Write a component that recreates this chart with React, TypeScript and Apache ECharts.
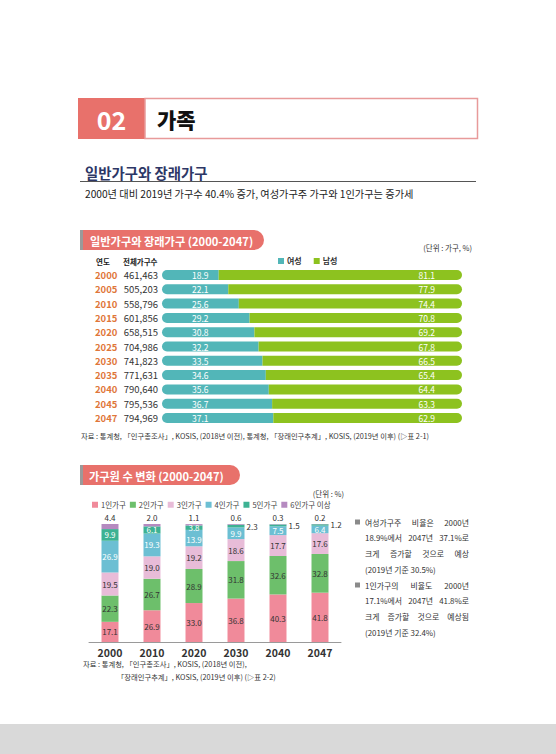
import React, { useEffect, useRef } from "react";
import * as echarts from "echarts";

const years = ["2000", "2005", "2010", "2015", "2020", "2025", "2030", "2035", "2040", "2045", "2047"];
const totals = ["461,463", "505,203", "558,796", "601,856", "658,515", "704,986", "741,823", "771,631", "790,640", "795,536", "794,969"];
const female = [18.9, 22.1, 25.6, 29.2, 30.8, 32.2, 33.5, 34.6, 35.6, 36.7, 37.1];
const male = [81.1, 77.9, 74.4, 70.8, 69.2, 67.8, 66.5, 65.4, 64.4, 63.3, 62.9];

const sizeYears = ["2000", "2010", "2020", "2030", "2040", "2047"];
const sizeNames = ["1인가구", "2인가구", "3인가구", "4인가구", "5인가구", "6인가구 이상"];
const p1 = [17.1, 26.9, 33.0, 36.8, 40.3, 41.8];
const p2 = [22.3, 26.7, 28.9, 31.8, 32.6, 32.8];
const p3 = [19.5, 19.0, 19.2, 18.6, 17.7, 17.6];
const p4 = [26.9, 19.3, 13.9, 9.9, 7.5, 6.4];
const p5 = [9.9, 6.1, 3.8, 2.3, 1.5, 1.2];
const p6 = [4.4, 2.0, 1.1, 0.6, 0.3, 0.2];

const para1 = ["여성가구주 비율은 2000년", "18.9%에서 2047년 37.1%로", "크게 증가할 것으로 예상", "(2019년 기준 30.5%)"];
const para2 = ["1인가구의 비율도 2000년", "17.1%에서 2047년 41.8%로", "크게 증가할 것으로 예상됨", "(2019년 기준 32.4%)"];

const FF = "'Noto Sans CJK KR', 'Noto Sans', sans-serif";
const RED = "#e8716b";

function txt(x: number, y: number, text: string, o: any = {}) {
  const style: any = {
    text,
    fill: o.fill || "#333",
    fontSize: o.fontSize || 8,
    fontWeight: o.fontWeight || "normal",
    fontFamily: FF,
    align: o.align || "left",
    textAlign: o.align || "left",
    verticalAlign: "middle",
    textVerticalAlign: "middle",
  };
  return { type: "text", x, y, style, z: 10 };
}

export default function App() {
  const ref = useRef<HTMLDivElement>(null);
  useEffect(() => {
    if (!ref.current) return;
    const chart = echarts.init(ref.current, null, { renderer: "svg" });

    const canvas = document.createElement("canvas");
    const ctx = canvas.getContext("2d")!;
    const pFont = 7.9;
    const measure = (s: string) => {
      ctx.font = `${pFont}px ${FF}`;
      return ctx.measureText(s).width;
    };
    const justified = (line: string, x0: number, x1: number, y: number, justify: boolean) => {
      const words = line.split(" ");
      if (!justify || words.length < 2) return [txt(x0, y, line, { fontSize: pFont, fill: "#333" })];
      const ws = words.map(measure);
      const sum = ws.reduce((a, b) => a + b, 0);
      const gap = (x1 - x0 - sum) / (words.length - 1);
      let x = x0;
      return words.map((w, i) => {
        const el = txt(x, y, w, { fontSize: pFont, fill: "#333" });
        x += ws[i] + gap;
        return el;
      });
    };
    const paraEls: any[] = [];
    const addPara = (lines: string[], y0: number) => {
      paraEls.push({ type: "rect", shape: { x: 355, y: y0 - 2.5, width: 5, height: 5 }, style: { fill: "#8a8a8a" } });
      lines.forEach((l, i) => {
        paraEls.push(...justified(l, 365, 469, y0 + i * 15.7, i < lines.length - 1));
      });
    };
    addPara(para1, 522);
    addPara(para2, 585);

    const lbl = (color: string, extra: any = {}) => ({
      show: true,
      position: "inside",
      color,
      fontSize: 8,
      fontFamily: FF,
      formatter: (p: any) => Number(p.value).toFixed(1),
      ...extra,
    });

    const sizeColors = ["#f08a9a", "#6dbf6b", "#e8bcd8", "#6cbfd3", "#3db293", "#b58ac0"];
    const sizeData = [p1, p2, p3, p4, p5, p6];

    const sizeSeries = sizeData.map((arr, si) => {
      let data: any[] = arr;
      let label: any = lbl(si === 3 || si === 4 ? "#fff" : "#333");
      if (si === 4) {
        data = arr.map((v, i) =>
          i >= 3
            ? { value: v, label: { position: "right", color: "#333", distance: 2 } }
            : i === 2
            ? { value: v, label: { offset: [0, -0.5] } }
            : v
        );
      }
      if (si === 3) {
        data = arr.map((v, i) => (i === 2 ? { value: v, label: { offset: [0, 1] } } : v));
      }
      if (si === 5) {
        label = lbl("#333", { position: "top", distance: 3 });
      }
      return {
        name: sizeNames[si],
        type: "bar",
        stack: "size",
        xAxisIndex: 1,
        yAxisIndex: 1,
        barWidth: 17,
        itemStyle: { color: sizeColors[si] },
        label,
        data,
      };
    });

    const option: any = {
      animation: false,
      backgroundColor: "#fff",
      textStyle: { fontFamily: FF },
      legend: [
        {
          data: ["여성", "남성"],
          left: 278,
          top: 257,
          padding: 0,
          icon: "rect",
          itemWidth: 6,
          itemHeight: 6,
          itemGap: 12,
          textStyle: { fontSize: 8, color: "#333", fontWeight: "bold", fontFamily: FF, padding: [0, 0, 0, -2] },
        },
        {
          data: sizeNames,
          left: 92,
          top: 501,
          padding: 0,
          icon: "rect",
          itemWidth: 6,
          itemHeight: 6,
          itemGap: 4,
          textStyle: { fontSize: 7.5, color: "#444", fontFamily: FF, padding: [0, 0, 0, -2] },
        },
      ],
      grid: [
        { left: 162, width: 300, top: 267.85, height: 157.3 },
        { left: 89, width: 252, top: 524, height: 118 },
      ],
      xAxis: [
        { gridIndex: 0, type: "value", min: 0, max: 100, show: false },
        {
          gridIndex: 1,
          type: "category",
          data: sizeYears,
          axisLine: { lineStyle: { color: "#9a9a9a", width: 1 } },
          axisTick: { inside: true, length: 5, lineStyle: { color: "#9a9a9a" } },
          axisLabel: { color: "#333", fontSize: 10.5, fontWeight: "bold", fontFamily: FF, margin: 5 },
        },
      ],
      yAxis: [
        {
          gridIndex: 0,
          type: "category",
          data: years,
          inverse: true,
          axisLine: { show: false },
          axisTick: { show: false },
          axisLabel: {
            interval: 0,
            margin: 4,
            formatter: (v: string, i: number) => `{y|${v}}{t|${totals[i]}}`,
            rich: {
              y: { color: "#e0763a", fontWeight: "bold", fontSize: 9.5, width: 27, align: "left", fontFamily: FF },
              t: { color: "#333", fontSize: 9.5, width: 36, align: "right", fontFamily: FF },
            },
          },
        },
        { gridIndex: 1, type: "value", min: 0, max: 100, show: false },
      ],
      series: [
        {
          name: "여성",
          type: "bar",
          stack: "gender",
          xAxisIndex: 0,
          yAxisIndex: 0,
          barWidth: 10,
          itemStyle: { color: "#52b6b8", borderRadius: [5, 0, 0, 5] },
          label: { show: true, position: "insideLeft", distance: 30, color: "#fff", fontSize: 8.5, fontFamily: FF, formatter: (p: any) => p.value.toFixed(1) },
          data: female,
        },
        {
          name: "남성",
          type: "bar",
          stack: "gender",
          xAxisIndex: 0,
          yAxisIndex: 0,
          barWidth: 10,
          itemStyle: { color: "#8dc21f", borderRadius: [0, 5, 5, 0] },
          label: { show: true, position: "insideRight", distance: 27, color: "#fff", fontSize: 8.5, fontFamily: FF, formatter: (p: any) => p.value.toFixed(1) },
          data: male,
        },
        ...sizeSeries,
      ],
      graphic: [
        // header
        { type: "rect", shape: { x: 78, y: 98, width: 67, height: 41 }, style: { fill: RED } },
        { type: "rect", shape: { x: 145, y: 98.5, width: 332.5, height: 40 }, style: { fill: "#fff", stroke: "#e89a9a", lineWidth: 1.5 } },
        txt(111.5, 119, "02", { fill: "#fff", fontSize: 25, fontWeight: "bold", align: "center" }),
        txt(157, 119, "가족", { fill: "#111", fontSize: 21, fontWeight: "900" }),
        // section title
        txt(85, 172, "일반가구와 장래가구", { fill: "#2d3766", fontSize: 14.4, fontWeight: "bold" }),
        { type: "line", shape: { x1: 80, y1: 181.5, x2: 476, y2: 181.5 }, style: { stroke: "#555", lineWidth: 1 } },
        txt(85, 193, "2000년 대비 2019년 가구수 40.4% 증가, 여성가구주 가구와 1인가구는 증가세", { fill: "#222", fontSize: 10.2 }),
        // pill 1
        { type: "rect", shape: { x: 80, y: 230, width: 3, height: 20 }, style: { fill: "#9a9a9a" } },
        { type: "rect", shape: { x: 83, y: 230, width: 181, height: 20, r: [0, 10, 10, 0] }, style: { fill: RED } },
        txt(90, 240.5, "일반가구와 장래가구 (2000-2047)", { fill: "#fff", fontSize: 11.2, fontWeight: "bold" }),
        txt(472, 247, "(단위 : 가구, %)", { fontSize: 7.5, align: "right", fill: "#333" }),
        txt(103, 261, "연도", { fontSize: 7.5, fontWeight: "bold", align: "center", fill: "#222" }),
        txt(123, 261, "전체가구수", { fontSize: 7.5, fontWeight: "bold", fill: "#222" }),
        txt(81, 436, "자료 : 통계청, 「인구총조사」, KOSIS, (2018년 이전), 통계청, 「장래인구추계」, KOSIS, (2019년 이후) (▷표 2-1)", { fontSize: 7.3, fill: "#333" }),
        // pill 2
        { type: "rect", shape: { x: 80, y: 465, width: 3, height: 20 }, style: { fill: "#9a9a9a" } },
        { type: "rect", shape: { x: 83, y: 465, width: 157, height: 20, r: [0, 10, 10, 0] }, style: { fill: RED } },
        txt(89, 475.5, "가구원 수 변화 (2000-2047)", { fill: "#fff", fontSize: 11.2, fontWeight: "bold" }),
        txt(344, 493, "(단위 : %)", { fontSize: 7.5, align: "right", fill: "#333" }),
        txt(83, 664, "자료 : 통계청, 「인구총조사」, KOSIS, (2018년 이전),", { fontSize: 7.3, fill: "#333" }),
        txt(117, 677, "「장래인구추계」, KOSIS, (2019년 이후) (▷표 2-2)", { fontSize: 7.3, fill: "#333" }),
        ...paraEls,
        // footer band
        { type: "rect", shape: { x: 0, y: 724, width: 556, height: 30 }, style: { fill: "#d9d9d9" } },
      ],
    };
    chart.setOption(option);
    return () => chart.dispose();
  }, []);
  return <div ref={ref} style={{ position: "absolute", left: 0, top: 0, width: 556, height: 754 }} />;
}
